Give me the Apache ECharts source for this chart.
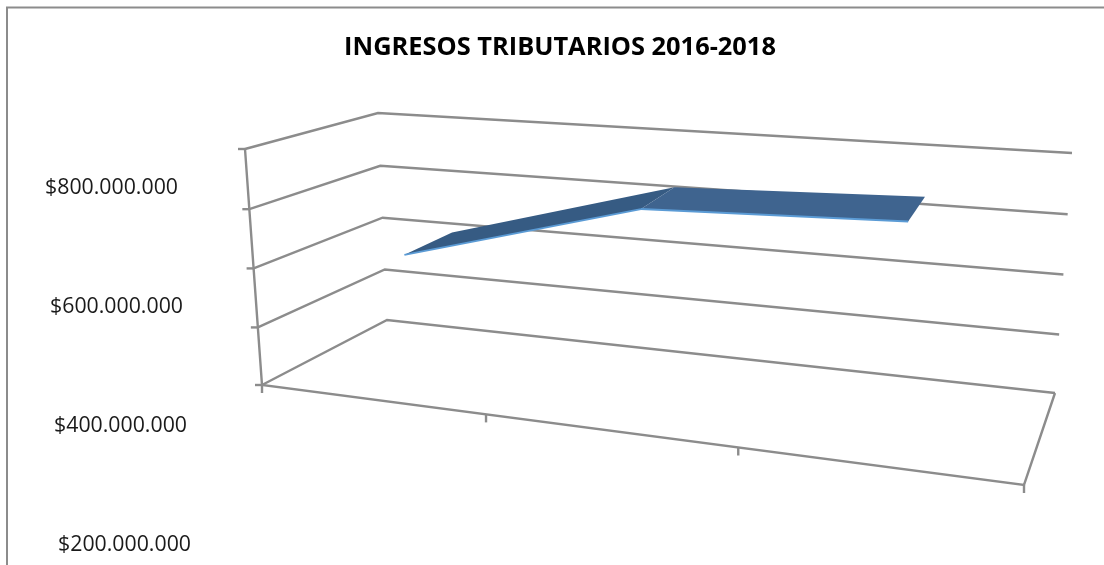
<!DOCTYPE html>
<html><head><meta charset="utf-8">
<style>html,body{margin:0;padding:0;background:#fff}#c{width:1104px;height:565px}</style>
<script src="https://cdn.jsdelivr.net/npm/echarts@6/dist/echarts.min.js"></script>
</head><body><div id="c"></div>
<script>
const titleText = 'INGRESOS TRIBUTARIOS 2016-2018';
const categories = ['2016', '2017', '2018'];
const revenue = [716000000, 827000000, 841000000];
const wallValues = [500000000, 600000000, 700000000, 800000000, 900000000];
const labelValues = [200000000, 400000000, 600000000, 800000000];
const labelInset = {200000000: 0, 400000000: 4, 600000000: 8, 800000000: 13};

// Projection of the chart's 3D box onto the page: [floor, top] at [left, right], front and back.
const box = {
  front: {floor: [[262, 385], [1024, 485]], top: [[245, 149], [1056, 211]]},
  back:  {floor: [[387, 320], [1055, 393]], top: [[378, 113], [1072, 153]]}
};
const tickU = [0, 0.294, 0.625, 1];      // perspective spacing along the floor
const categoryU = [0.149, 0.46, 0.807];
const wallV = [0, 0.244, 0.494, 0.745, 1]; // perspective spacing up the wall
const ribbonDepth = [0.3, 0.72];
const wallMin = wallValues[0], wallMax = wallValues[wallValues.length - 1];
const mix = (a, b, t) => [a[0] + (b[0] - a[0]) * t, a[1] + (b[1] - a[1]) * t];
function heightOf(value) {
  const step = wallValues[1] - wallValues[0];
  const k = Math.min(wallValues.length - 2, Math.max(0, Math.floor((value - wallMin) / step)));
  return wallV[k] + (wallV[k + 1] - wallV[k]) * (value - wallValues[k]) / step;
}
function project(u, value, d) {
  const v = heightOf(value);
  const at = s => mix(mix(s.floor[0], s.floor[1], u), mix(s.top[0], s.top[1], u), v);
  return mix(at(box.front), at(box.back), d);
}
const ink = '#8c8c8c';
const edge = (api, pts, width) => ({
  type: 'polyline',
  shape: {points: pts.map(p => api.coord(p))},
  style: {stroke: ink, fill: null, lineWidth: width || 2.4}
});

const chart = echarts.init(document.getElementById('c'), null, {renderer: 'canvas'});
chart.setOption({
  animation: false,
  backgroundColor: '#ffffff',
  title: {
    text: titleText, left: 555, top: 30, textAlign: 'center',
    textStyle: {fontFamily: 'Open Sans', fontWeight: 'bold', fontSize: 25.4, color: '#000'}
  },
  grid: [
    {left: 191, right: 0, top: 188, bottom: 20},
    {left: 0, right: 0, top: 0, bottom: 0}
  ],
  xAxis: [
    {gridIndex: 0, type: 'value', show: false, min: 0, max: 1},
    {gridIndex: 1, type: 'value', show: false, min: 0, max: 1104}
  ],
  yAxis: [
    {gridIndex: 0, type: 'value', min: 200000000, max: 800000000, interval: 200000000,
     axisLine: {show: false}, axisTick: {show: false}, splitLine: {show: false},
     axisLabel: {
       margin: 0,
       formatter: v => '{v' + labelInset[v] + '|$' + (v / 1e6) + '.000.000}',
       rich: Object.fromEntries(Object.values(labelInset).map(p => ['v' + p,
         {padding: [0, p, 0, 0], fontFamily: 'Open Sans', fontSize: 21.3, color: '#1a1a1a'}]))
     }},
    {gridIndex: 1, type: 'value', show: false, min: 0, max: 565, inverse: true}
  ],
  series: [
    {
      name: 'Paredes', type: 'custom', xAxisIndex: 1, yAxisIndex: 1, silent: true, z: 2, clip: false,
      data: wallValues,
      renderItem: (params, api) => {
        const val = wallValues[params.dataIndex];
        const fl = project(0, val, 0);
        return {type: 'group', children: [
          edge(api, [fl, project(0, val, 1), project(1, val, 1)]),
          edge(api, [fl, [fl[0] - 7, fl[1]]])
        ]};
      }
    },
    {
      name: 'Piso', type: 'custom', xAxisIndex: 1, yAxisIndex: 1, silent: true, z: 2, clip: false,
      data: tickU,
      renderItem: (params, api) => {
        const u = tickU[params.dataIndex];
        const p = project(u, wallMin, 0);
        const kids = [edge(api, [p, [p[0], p[1] + 8]])];
        if (params.dataIndex === 0) {
          kids.push(edge(api, [project(0, wallMax, 0), p, project(1, wallMin, 0), project(1, wallMin, 1)]));
        }
        return {type: 'group', children: kids};
      }
    },
    {
      name: 'Ingresos', type: 'custom', xAxisIndex: 1, yAxisIndex: 1, silent: true, z: 3, clip: false,
      data: categories.slice(1),
      renderItem: (params, api) => {
        const i = params.dataIndex;
        const a0 = project(categoryU[i], revenue[i], ribbonDepth[0]);
        const b0 = project(categoryU[i + 1], revenue[i + 1], ribbonDepth[0]);
        const a1 = project(categoryU[i], revenue[i], ribbonDepth[1]);
        const b1 = project(categoryU[i + 1], revenue[i + 1], ribbonDepth[1]);
        return {type: 'group', children: [
          {type: 'polygon', shape: {points: [a0, b0, b1, a1].map(p => api.coord(p))},
           style: {fill: i === 0 ? '#365b83' : '#3f648f', stroke: null}},
          {type: 'polyline', shape: {points: [a0, b0].map(p => api.coord(p))},
           style: {stroke: '#5b9bd5', fill: null, lineWidth: 2}}
        ]};
      }
    }
  ],
  graphic: [
    {type: 'polyline', silent: true, shape: {points: [[7, 565], [7, 7.5], [1104, 7.5]]},
     style: {stroke: '#8c8c8c', fill: null, lineWidth: 2}}
  ]
});
</script></body></html>
